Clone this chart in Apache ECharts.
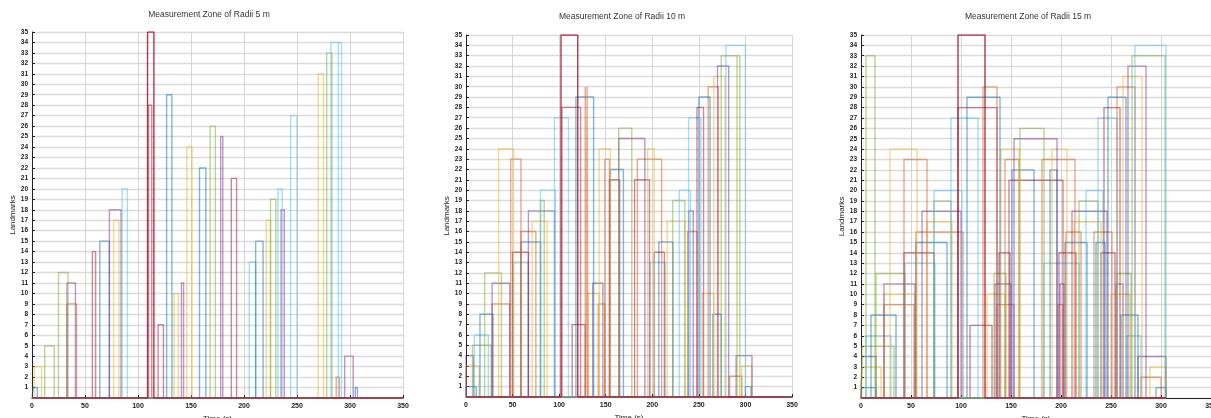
<!DOCTYPE html>
<html lang="en">
<head>
	<meta charset="UTF-8">
	<title>Measurement Zones</title>
	<style>
		html,body{margin:0px;padding:0px;background:#fff;}
		#show{width:1211px;height:418px;}
	</style>
</head>
<body>
	<div id="show"></div>
</body>
</html>
<script type="text/javascript" src="https://cdn.jsdelivr.net/npm/echarts@6/dist/echarts.min.js"></script>
<script type="text/javascript">
	// [landmark, start (s), end (s)]
	var pulses5 = [
		[1,1,5],[1,305,307],[2,287,290],[3,2,9],[4,295,303],[5,12,21],[7,119,124],[9,33,42],
		[10,134,138],[11,33,41],[11,141,143],[12,25,34],[13,205,211],[14,57,60],[15,64,73],
		[15,211,218],[17,77,82],[17,221,225],[18,73,84],[18,235,238],[19,225,230],[20,85,90],
		[20,232,236],[21,188,193],[22,158,164],[24,146,151],[25,178,180],[26,168,173],
		[27,244,250],[28,110,113],[29,127,132],[31,270,275],[33,278,283],[34,282,289],
		[34,289,292],[35,109,115]
	];
	var pulses10 = [
		[1,0,11],[1,300,306],[2,283,296],[3,0,14],[3,296,307],[4,0,8],[4,290,307],[5,7,27],
		[6,9,24],[7,114,128],[8,15,29],[8,265,274],[9,28,47],[9,142,149],[10,131,143],
		[10,254,266],[11,28,47],[11,136,147],[12,20,38],[13,51,67],[13,198,214],[14,50,67],
		[14,202,213],[15,59,80],[15,207,222],[16,59,75],[16,238,248],[17,71,87],[17,216,235],
		[18,67,95],[18,239,244],[19,80,84],[19,222,235],[20,80,96],[20,229,241],[21,154,165],
		[21,181,197],[22,155,169],[23,48,59],[23,149,154],[23,184,210],[24,35,51],[24,143,155],
		[24,195,202],[25,164,192],[26,164,178],[27,95,110],[27,239,252],[28,103,123],
		[28,248,255],[29,118,137],[29,250,262],[30,128,130],[30,130,131],[30,260,271],
		[31,266,278],[32,270,282],[33,274,291],[33,291,294],[34,279,300],[35,102,120]
	];
	var pulses15 = [
		[1,1,15],[1,295,305],[2,280,300],[3,1,20],[3,289,305],[4,1,15],[4,277,305],[5,1,33],
		[6,5,30],[6,266,280],[7,109,131],[8,10,35],[8,260,277],[9,23,53],[9,136,153],[9,197,202],
		[10,23,54],[10,126,144],[10,250,269],[11,23,54],[11,134,150],[11,199,203],[11,255,262],
		[12,15,44],[12,133,145],[12,256,270],[13,44,74],[13,183,218],[14,43,73],[14,138,149],
		[14,198,215],[14,240,254],[15,55,86],[15,204,226],[15,235,244],[16,55,102],[16,205,220],
		[16,233,251],[17,66,91],[17,213,240],[18,61,100],[18,211,246],[19,73,90],[19,218,237],
		[20,73,101],[20,225,242],[21,148,202],[22,151,173],[22,189,196],[23,43,66],[23,144,158],
		[23,181,214],[24,29,56],[24,140,158],[24,191,206],[25,153,196],[26,159,183],[27,90,117],
		[27,237,256],[28,97,136],[28,243,259],[29,106,139],[29,247,265],[30,122,136],[30,256,274],
		[31,262,281],[32,267,285],[33,5,14],[33,271,304],[34,274,305],[35,97,124]
	];
	var titles = ['Measurement Zone of Radii 5 m','Measurement Zone of Radii 10 m','Measurement Zone of Radii 15 m'];
	var xTicks = [0,50,100,150,200,250,300,350];
	var landmarkCount = 35;
	var colors = ['#0072BD','#D95319','#EDB120','#7E2F8E','#77AC30','#4DBEEE','#A2142F'];

	var grids = [
		{left:32,top:32,width:371,height:366,titleX:209,titleY:10,nameGap:15},
		{left:466,top:35,width:326,height:362,titleX:622,titleY:12,nameGap:12},
		{left:861,top:35,width:350,height:363,titleX:1028,titleY:12,nameGap:13}
	];
	var tracks = [pulses5,pulses10,pulses15];
	var tEnd = [350,350,305];

	var font = 'Liberation Sans, Arial, sans-serif';
	var option = {
		animation:false,
		backgroundColor:'#fff',
		title:[],
		grid:[],
		xAxis:[],
		yAxis:[],
		series:[]
	};

	grids.forEach(function(g,k){
		option.title.push({
			text:titles[k],left:g.titleX,top:g.titleY,textAlign:'center',padding:0,
			textStyle:{fontFamily:font,fontSize:8.5,fontWeight:'normal',color:'#333'}
		});
		option.grid.push({left:g.left,top:g.top,width:g.width,height:g.height,
			containLabel:false,outerBoundsMode:'none'});
		option.xAxis.push({
			gridIndex:k,type:'value',min:xTicks[0],max:xTicks[xTicks.length-1],interval:50,
			name:'Time (s)',nameLocation:'middle',nameGap:13,
			nameTextStyle:{fontFamily:font,fontSize:8,color:'#222'},
			axisLine:{lineStyle:{color:'#222',width:1}},
			axisTick:{inside:true,length:3,lineStyle:{color:'#222'}},
			axisLabel:{fontFamily:font,fontSize:7,color:'#222',margin:5,fontWeight:'bold'},
			splitLine:{show:true,lineStyle:{color:'#d6d6d6',width:1}}
		});
		option.yAxis.push({
			gridIndex:k,type:'value',min:0,max:landmarkCount,interval:1,
			name:'Landmarks',nameLocation:'middle',nameGap:g.nameGap,nameRotate:90,
			nameTextStyle:{fontFamily:font,fontSize:8,color:'#222'},
			axisLine:{show:true,lineStyle:{color:'#222',width:1}},
			axisTick:{show:true,inside:true,length:3,lineStyle:{color:'#222'}},
			axisLabel:{fontFamily:font,fontSize:6.5,color:'#222',margin:4,fontWeight:'bold',
				formatter:function(v){return v==0?'':v;}},
			splitLine:{show:true,lineStyle:{color:'#dcdcdc',width:1.4}}
		});
		for(var j=1;j<=landmarkCount;j++){
			var list = tracks[k].filter(function(p){return p[0]==j;}).sort(function(a,b){return a[1]-b[1];});
			var pts = [[0,0]];
			list.forEach(function(p){
				pts.push([p[1],0],[p[1],p[0]],[p[2],p[0]],[p[2],0]);
			});
			pts.push([tEnd[k],0]);
			option.series.push({
				type:'line',xAxisIndex:k,yAxisIndex:k,data:pts,
				symbol:'none',silent:true,
				lineStyle:{color:colors[(j-1)%7],width:1.4,opacity:j==landmarkCount?0.85:0.5}
			});
		}
	});

	var myChart = echarts.init(document.getElementById('show'));
	myChart.setOption(option);
</script>
